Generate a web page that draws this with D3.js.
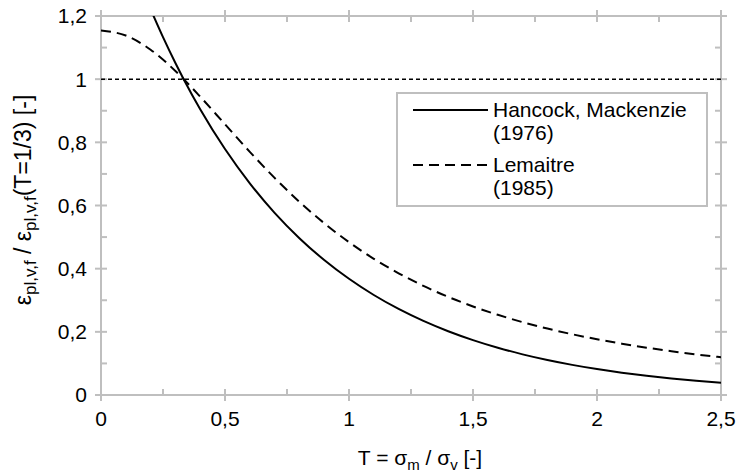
<!DOCTYPE html>
<html>
<head>
<meta charset="utf-8">
<script src="https://cdn.jsdelivr.net/npm/d3@7"></script>
<style>
  html, body { margin: 0; padding: 0; background: #fff; }
  svg { display: block; font-family: "Liberation Sans", Arial, sans-serif; }
</style>
</head>
<body>
<svg id="chart" width="741" height="473"></svg>
<script>
// ---- data ----
const hancockT = [0.2, 0.25, 0.3, 1/3, 0.4, 0.5, 0.6, 0.7, 0.8, 0.9, 1.0, 1.1, 1.2, 1.3, 1.4, 1.5, 1.6, 1.7, 1.8, 1.9, 2.0, 2.1, 2.2, 2.3, 2.4, 2.5];
const hancockV = [1.2214, 1.1331, 1.0513, 1.0, 0.9048, 0.7788, 0.6703, 0.5769, 0.4966, 0.4274, 0.3679, 0.3166, 0.2725, 0.2346, 0.2019, 0.1738, 0.1496, 0.1287, 0.1108, 0.0954, 0.0821, 0.0707, 0.0608, 0.0523, 0.0450, 0.0388];
const lemaitreT = [0, 0.1, 0.2, 0.3, 0.4, 0.5, 0.6, 0.7, 0.8, 0.9, 1.0, 1.1, 1.2, 1.3, 1.4, 1.5, 1.6, 1.7, 1.8, 1.9, 2.0, 2.1, 2.2, 2.3, 2.4, 2.5];
const lemaitreV = [1.1538, 1.1381, 1.0933, 1.0260, 0.9446, 0.8571, 0.7700, 0.6874, 0.6117, 0.5439, 0.4839, 0.4313, 0.3854, 0.3455, 0.3107, 0.2804, 0.2539, 0.2307, 0.2103, 0.1924, 0.1765, 0.1624, 0.1498, 0.1386, 0.1286, 0.1195];
const refLineT = [0, 2.5];
const refLineV = [1, 1];
const xTicks = [0, 0.5, 1, 1.5, 2, 2.5];
const xTickLabels = ["0", "0,5", "1", "1,5", "2", "2,5"];
const xMinorTicks = [0.25, 0.75, 1.25, 1.75, 2.25];
const yTicks = [0, 0.2, 0.4, 0.6, 0.8, 1, 1.2];
const yTickLabels = ["0", "0,2", "0,4", "0,6", "0,8", "1", "1,2"];
const yMinorTicks = [0.1, 0.3, 0.5, 0.7, 0.9, 1.1];
const legendNames = [["Hancock, Mackenzie", "(1976)"], ["Lemaitre", "(1985)"]];

// ---- layout ----
const svg = d3.select("#chart");
const L = 101, R = 721, T = 16, B = 395;
const x = d3.scaleLinear().domain([0, 2.5]).range([L, R]);
const y = d3.scaleLinear().domain([0, 1.2]).range([B, T]);
const grey = "#bfbfbf";
const fs = 21, sub = 15;

// clip
svg.append("defs").append("clipPath").attr("id", "clip")
  .append("rect").attr("x", L).attr("y", T).attr("width", R - L).attr("height", B - T);

// frame / axes
const axG = svg.append("g").attr("stroke", grey).attr("stroke-width", 2).attr("fill", "none");
const tk = 6;
axG.append("line").attr("x1", L - tk).attr("x2", R + tk).attr("y1", B).attr("y2", B);
axG.append("line").attr("x1", L - tk).attr("x2", R + tk).attr("y1", T).attr("y2", T);
axG.append("line").attr("x1", L).attr("x2", L).attr("y1", T - tk).attr("y2", B + tk);
axG.append("line").attr("x1", R).attr("x2", R).attr("y1", T - tk).attr("y2", B + tk);

xTicks.forEach(v => {
  axG.append("line").attr("x1", x(v)).attr("x2", x(v)).attr("y1", B - tk).attr("y2", B + tk);
  axG.append("line").attr("x1", x(v)).attr("x2", x(v)).attr("y1", T - tk).attr("y2", T + tk);
});
xMinorTicks.forEach(v => {
  axG.append("line").attr("x1", x(v)).attr("x2", x(v)).attr("y1", B - tk).attr("y2", B);
  axG.append("line").attr("x1", x(v)).attr("x2", x(v)).attr("y1", T).attr("y2", T + tk);
});
yTicks.forEach(v => {
  axG.append("line").attr("x1", L - tk).attr("x2", L + tk).attr("y1", y(v)).attr("y2", y(v));
  axG.append("line").attr("x1", R - tk).attr("x2", R + tk).attr("y1", y(v)).attr("y2", y(v));
});
yMinorTicks.forEach(v => {
  axG.append("line").attr("x1", L).attr("x2", L + tk).attr("y1", y(v)).attr("y2", y(v));
  axG.append("line").attr("x1", R - tk).attr("x2", R).attr("y1", y(v)).attr("y2", y(v));
});

// tick labels
svg.append("g").selectAll("text").data(xTicks).join("text")
  .attr("x", d => x(d)).attr("y", B + 31)
  .attr("text-anchor", "middle").attr("font-size", fs).attr("fill", "#000")
  .text((d, i) => xTickLabels[i]);
svg.append("g").selectAll("text").data(yTicks).join("text")
  .attr("x", L - 14).attr("y", d => y(d)).attr("dy", "0.35em")
  .attr("text-anchor", "end").attr("font-size", fs).attr("fill", "#000")
  .text((d, i) => yTickLabels[i]);

// axis titles
const xt = svg.append("text").attr("x", 420).attr("y", 465)
  .attr("text-anchor", "middle").attr("font-size", fs).attr("fill", "#000");
xt.append("tspan").text("T = σ");
xt.append("tspan").attr("font-size", sub).attr("dy", 5).text("m");
xt.append("tspan").attr("dy", -5).text(" / σ");
xt.append("tspan").attr("font-size", sub).attr("dy", 5).text("v");
xt.append("tspan").attr("dy", -5).text(" [-]");

const yt = svg.append("text")
  .attr("transform", `translate(31, 200) rotate(-90)`)
  .attr("text-anchor", "middle").attr("font-size", 23).attr("fill", "#000");
yt.append("tspan").text("ε");
yt.append("tspan").attr("font-size", 17).attr("dy", 5).text("pl,v,f");
yt.append("tspan").attr("dy", -5).text(" / ε");
yt.append("tspan").attr("font-size", 17).attr("dy", 5).text("pl,v,f");
yt.append("tspan").attr("dy", -5).text("(T=1/3) [-]");

// lines
const line = d3.line().x(d => x(d[0])).y(d => y(d[1])).curve(d3.curveMonotoneX);
const plot = svg.append("g").attr("clip-path", "url(#clip)");
plot.append("path").datum(refLineT.map((t, i) => [t, refLineV[i]]))
  .attr("d", d3.line().x(d => x(d[0])).y(d => y(d[1])))
  .attr("fill", "none").attr("stroke", "#000").attr("stroke-width", 1.5).attr("stroke-dasharray", "4,3");
plot.append("path").datum(lemaitreT.map((t, i) => [t, lemaitreV[i]]))
  .attr("d", line).attr("fill", "none").attr("stroke", "#000").attr("stroke-width", 2)
  .attr("stroke-dasharray", "10,6");
plot.append("path").datum(hancockT.map((t, i) => [t, hancockV[i]]))
  .attr("d", line).attr("fill", "none").attr("stroke", "#000").attr("stroke-width", 2);

// legend
const lg = svg.append("g");
const boxX = 397, boxY = 93, boxW = 310, boxH = 113;
lg.append("rect").attr("x", boxX).attr("y", boxY).attr("width", boxW).attr("height", boxH)
  .attr("fill", "#fff").attr("stroke", grey).attr("stroke-width", 2);
const rowY = [110, 165];
legendNames.forEach((names, i) => {
  lg.append("line").attr("x1", 413).attr("x2", 488).attr("y1", rowY[i]).attr("y2", rowY[i])
    .attr("stroke", "#000").attr("stroke-width", 2)
    .attr("stroke-dasharray", i === 1 ? "10,6" : null);
  names.forEach((n, j) => {
    lg.append("text").attr("x", 493).attr("y", rowY[i] + j * 23).attr("dy", "0.35em")
      .attr("font-size", fs).attr("fill", "#000").text(n);
  });
});
</script>
</body>
</html>
